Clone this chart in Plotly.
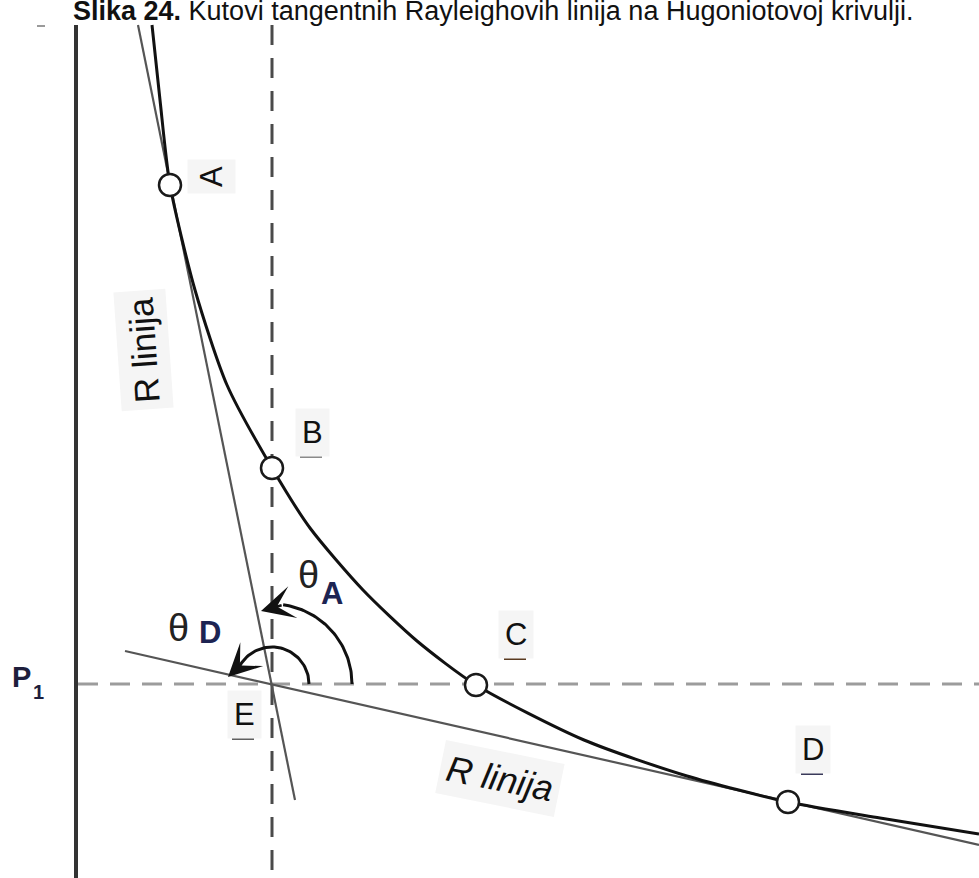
# Slika 24 - kutovi tangentnih Rayleighovih linija na Hugoniotovoj krivulji
import numpy as np
import plotly.graph_objects as go

# koordinate ocitane sa slike (px, y ide prema dolje)
hug_x = [152, 160, 170, 195, 227, 272, 310, 363, 417, 476, 584, 687, 788, 880, 979]
hug_y = [25, 100, 185, 290, 385, 468, 528, 590, 641, 685, 740, 776, 802, 818, 834]

tocke = ["A", "B", "C", "D"]
tocke_x = [170, 272, 476, 788]
tocke_y = [185, 468, 685, 802]

# Rayleighove linije - tangente u A i D, sijeku se u E
rl_a_x = [138, 295]
rl_a_y = [25, 800]
rl_d_x = [125, 979]
rl_d_y = [651, 845]

# os p, isprekidane linije kroz E
os_x = [76, 76]
os_y = [25, 878]
v1_x = [272, 272]
v1_y = [25, 878]
p1_x = [78, 979]
p1_y = [684, 684]

# kutovi theta oko E
E_x, E_y = 272, 684
kut_r = [80, 37]
kut_do = [82, 150]  # stupnjevi
kut_vrh_x = [261, 228]
kut_vrh_y = [611, 677]

# oznake
oznake = ["B", "C", "D", "E"]
oznake_x = [312, 516, 813, 244]
oznake_y = [432, 634, 749, 714]
crtica_boja = ["#8a8a8a", "#5a3a20", "#3a3a5a", "#606060"]

FONT = "Liberation Sans, Arial, sans-serif"

fig = go.Figure()

fig.add_trace(go.Scatter(x=os_x, y=os_y, mode="lines", line=dict(color="#333333", width=4)))
fig.add_trace(go.Scatter(x=v1_x, y=v1_y, mode="lines",
                         line=dict(color="#4a4a4a", width=3, dash="20px,13px")))
fig.add_trace(go.Scatter(x=p1_x, y=p1_y, mode="lines",
                         line=dict(color="#9c9c9c", width=3, dash="20px,12px")))
# mala crtica gore lijevo
fig.add_trace(go.Scatter(x=[37, 45], y=[26, 26], mode="lines",
                         line=dict(color="#9a9a9a", width=2)))

# R linije
fig.add_trace(go.Scatter(x=rl_a_x, y=rl_a_y, mode="lines", line=dict(color="#555555", width=2.2)))
fig.add_trace(go.Scatter(x=rl_d_x, y=rl_d_y, mode="lines", line=dict(color="#555555", width=2.2)))

# kutovi
for r, kraj in zip(kut_r, kut_do):
    phi = np.radians(np.linspace(0, kraj, 60))
    fig.add_trace(go.Scatter(x=E_x + r * np.cos(phi), y=E_y - r * np.sin(phi), mode="lines",
                             line=dict(color="#111111", width=3)))

# Hugoniot
fig.add_trace(go.Scatter(x=hug_x, y=hug_y, mode="lines",
                         line=dict(color="#111111", width=3, shape="spline", smoothing=0.7)))
fig.add_trace(go.Scatter(x=tocke_x, y=tocke_y, mode="markers", text=tocke,
                         marker=dict(size=22, color="white", line=dict(color="#1a1a1a", width=2.5))))

# crtice ispod oznaka
for x, y, c in zip(oznake_x, oznake_y, crtica_boja):
    fig.add_trace(go.Scatter(x=[x - 12, x + 10], y=[y + 25, y + 25], mode="lines",
                             line=dict(color=c, width=2)))

ann = []
# strelice na kutovima
for r, kraj, tx, ty in zip(kut_r, kut_do, kut_vrh_x, kut_vrh_y):
    ex = E_x + r * np.cos(np.radians(kraj))
    ey = E_y - r * np.sin(np.radians(kraj))
    ann.append(dict(x=tx, y=ty, ax=ex, ay=ey, xref="x", yref="y", axref="x", ayref="y",
                    showarrow=True, arrowhead=3, arrowsize=2.2, arrowwidth=2.5,
                    arrowcolor="#111111", text=""))

def tekst(t, x, y, size, angle=0, bold=False, italic=False, color="#111111", bg=None):
    d = dict(x=x, y=y, xref="x", yref="y", text=t, showarrow=False, textangle=angle,
             xanchor="center", yanchor="middle",
             font=dict(family=FONT, size=size, color=color,
                       weight="bold" if bold else "normal",
                       style="italic" if italic else "normal"))
    if bg:
        d["bgcolor"] = bg
        d["borderpad"] = 6
    return d

BG = "#f5f5f5"
for t, x, y in zip(oznake, oznake_x, oznake_y):
    ann.append(tekst(t, x, y, 31, bg=BG))
ann.append(tekst("A", 211, 177, 31, angle=-90, bg=BG))
ann.append(tekst("R linija", 143, 350, 35, angle=-94, bg=BG))
ann.append(tekst("R linija", 500, 778, 36, angle=11.5, italic=True, bg=BG))

# theta oznake
ann.append(tekst("θ", 308, 575, 38, color="#222222"))
ann.append(tekst("A", 332, 593, 31, bold=True, color="#1d2452"))
ann.append(tekst("θ", 178, 628, 38, color="#222222"))
ann.append(tekst("D", 210, 632, 31, bold=True, color="#1d2452"))

# P1
ann.append(tekst("P", 21, 677, 29, bold=True, color="#1e1e3c"))
ann.append(tekst("1", 38, 692, 20, bold=True, color="#1e1e3c"))

# naslov (u originalu odrezan gore)
ann.append(tekst("<b>Slika 24.</b> Kutovi tangentnih Rayleighovih linija na Hugoniotovoj krivulji.",
                 493, 11, 27))

fig.update_layout(
    width=979, height=878, autosize=False,
    margin=dict(l=0, r=0, t=0, b=0),
    paper_bgcolor="white", plot_bgcolor="white",
    showlegend=False,
    xaxis=dict(range=[0, 979], visible=False, fixedrange=True),
    yaxis=dict(range=[878, 0], visible=False, fixedrange=True),
    annotations=ann,
)

fig.write_html("out.html", post_script="document.body.style.margin='0';",
               config={"displayModeBar": False})
